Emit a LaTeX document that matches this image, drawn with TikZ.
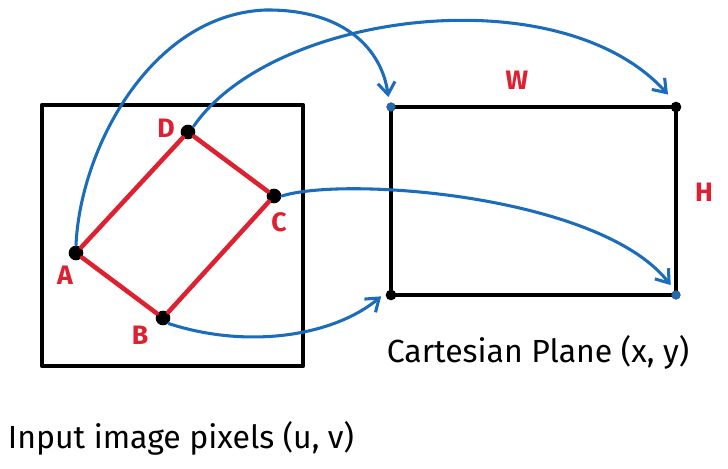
\documentclass[tikz,border=0pt]{standalone}
\usepackage{fontspec}
\setmainfont{Fira Sans}
\usetikzlibrary{arrows.meta}

\definecolor{mapblue}{RGB}{28,108,188}
\definecolor{quadred}{RGB}{222,32,48}

\tikzset{every picture/.style={line width=0.75pt}}
\tikzset{
  frame/.style={line width=3.6pt, line join=round, line cap=round},
  quadedge/.style={color=quadred, line width=3.4pt, line cap=round},
  corner/.style={circle, fill=black, inner sep=0pt, minimum size=11pt},
  blackpt/.style={circle, fill=black, inner sep=0pt, minimum size=8pt},
  bluept/.style={circle, fill=mapblue, draw=black!70, line width=0.4pt, inner sep=0pt, minimum size=6.5pt},
  maparrow/.style={color=mapblue, line width=2.3pt, line cap=round, -{Straight Barb[length=9pt,width=13pt,line width=2.3pt]}},
  redlabel/.style={text=quadred, font=\bfseries\fontsize{20}{20}\selectfont, inner sep=0.75pt},
  caption/.style={font=\fontsize{24}{24}\selectfont, inner sep=0.75pt}
}

\begin{document}
\begin{tikzpicture}[x=0.75pt,y=0.75pt,yscale=-1,xscale=1]
\useasboundingbox (0,0) rectangle (728,468);

%Shape: Square (input image)
\draw [frame] (42,105) rectangle (303,366) ;

%Points of the quad
\node [corner] (A) at (76,253) {};
\node [corner] (B) at (163,318) {};
\node [corner] (C) at (274,196) {};
\node [corner] (D) at (188,132) {};

%Quad edges
\draw [quadedge] (A) -- (D) -- (C) -- (B) -- (A) ;

%Shape: Rectangle (cartesian plane)
\coordinate (tl) at (391,107);
\coordinate (tr) at (676,107);
\coordinate (br) at (676,295);
\coordinate (bl) at (391,295);
\draw [frame] (tl) -- (tr) -- (br) -- (bl) -- cycle ;
\node [bluept] (TL) at (tl) {};
\node [blackpt] (TR) at (tr) {};
\node [bluept] (BR) at (br) {};
\node [blackpt] (BL) at (bl) {};

%Curve Lines
\draw [maparrow] (A.north) .. controls (80,150) and (150,15) .. (265,10) .. controls (345,9) and (382,50) .. ([xshift=-2pt,yshift=-4pt]TL.north) ;
\draw [maparrow] (D.north east) .. controls (272,12) and (560,-25) .. ([xshift=-6pt,yshift=-5pt]TR.north) ;
\draw [maparrow] (C.east) .. controls (345,176) and (600,195) .. ([xshift=-4pt,yshift=-4pt]BR.north) ;
\draw [maparrow] (B.south east) .. controls (250,350) and (335,335) .. ([xshift=-3pt,yshift=1pt]BL.west) ;

% Text Node
\node [redlabel] (labA) at (65,275) {A};
% Text Node
\node [redlabel] (labB) at (140,335) {B};
% Text Node
\node [redlabel] (labC) at (279,222) {C};
% Text Node
\node [redlabel] (labD) at (166,128) {D};
% Text Node
\node [redlabel] (labW) at (517,80) {W};
% Text Node
\node [redlabel] (labH) at (704,192) {H};
% Text Node
\node [caption] (plane) at (538,352) {Cartesian Plane (x, y)};
% Text Node
\node [caption] (pixels) at (181,438) {Input image pixels (u, v)};
\end{tikzpicture}
\end{document}
